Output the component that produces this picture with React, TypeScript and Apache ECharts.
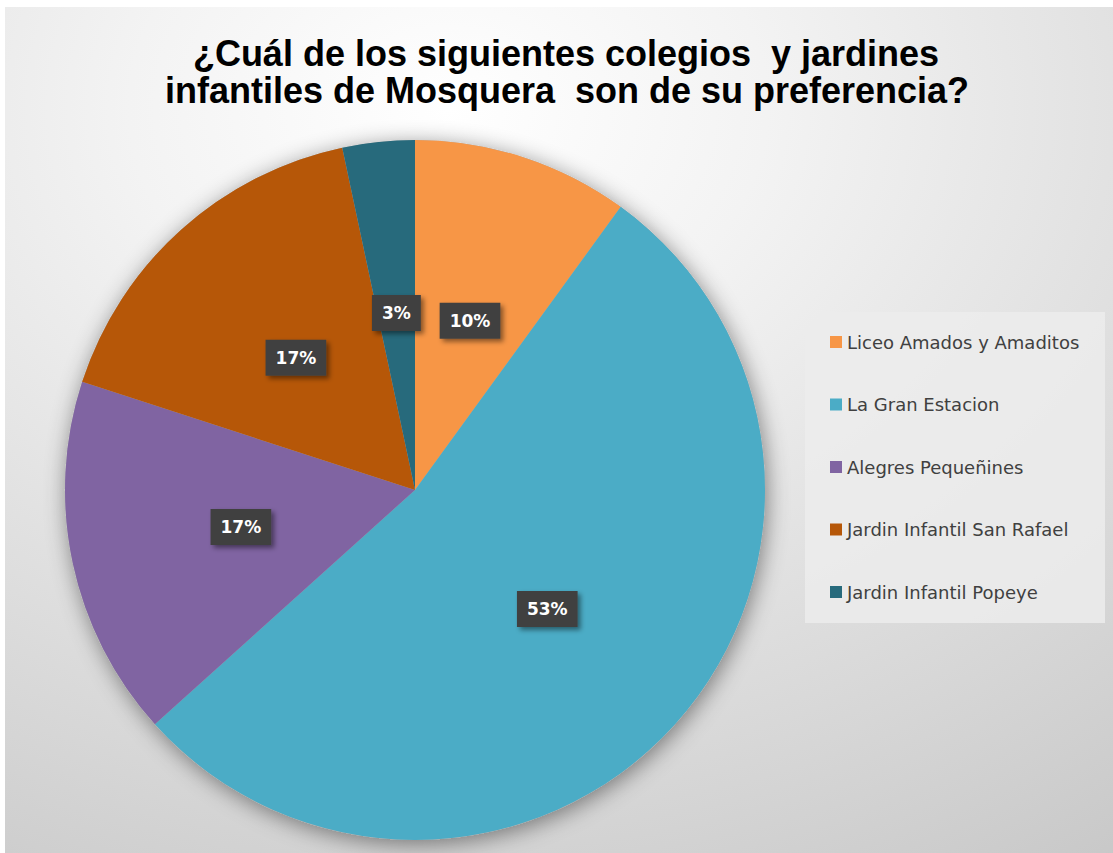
import React, { useEffect, useRef } from "react";
import * as echarts from "echarts";

const categories = [
  "Liceo Amados y Amaditos",
  "La Gran Estacion",
  "Alegres Pequeñines",
  "Jardin Infantil San Rafael",
  "Jardin Infantil Popeye",
];
const values = [3, 16, 5, 5, 1];
const colors = ["#F79646", "#4BACC6", "#8064A2", "#B65708", "#276A7C"];
const titleLines = [
  "¿Cuál de los siguientes colegios  y jardines",
  "infantiles de Mosquera  son de su preferencia?",
];

export default function App() {
  const ref = useRef<HTMLDivElement>(null);
  useEffect(() => {
    if (!ref.current) return;
    const chart = echarts.init(ref.current, null, { renderer: "svg" });
    const titleStyle = {
      fill: "#000000",
      fontFamily: "Liberation Sans",
      fontWeight: "bold",
      fontSize: 36,
      textAlign: "center",
      textVerticalAlign: "middle",
    };
    chart.setOption({
      animation: false,
      backgroundColor: "#ffffff",
      graphic: [
        {
          type: "rect",
          z: -10,
          silent: true,
          shape: { x: 5, y: 7, width: 1108, height: 846 },
          style: {
            fill: new echarts.graphic.RadialGradient(0.4, 0.12, 1.15, [
              { offset: 0, color: "#ffffff" },
              { offset: 0.25, color: "#f3f3f3" },
              { offset: 1, color: "#c4c4c4" },
            ]),
          },
        },
        {
          type: "rect",
          z: -5,
          silent: true,
          shape: { x: 805, y: 312, width: 300, height: 311 },
          style: { fill: "rgba(236,236,236,0.85)" },
        },
        {
          type: "text",
          x: 566,
          y: 53,
          style: { ...titleStyle, text: titleLines[0] },
        },
        {
          type: "text",
          x: 567,
          y: 90,
          style: { ...titleStyle, text: titleLines[1] },
        },
      ],
      legend: {
        data: categories,
        orient: "vertical",
        left: 830,
        top: 332,
        padding: 0,
        itemWidth: 12,
        itemHeight: 12,
        itemGap: 42.5,
        icon: "rect",
        textStyle: {
          fontFamily: "DejaVu Sans",
          fontSize: 18,
          color: "#404040",
          lineHeight: 20,
        },
      },
      series: [
        {
          type: "pie",
          silent: true,
          center: [415, 490],
          radius: 350,
          z: 1,
          data: [{ value: 1, name: "_shadow" }],
          label: { show: false },
          labelLine: { show: false },
          itemStyle: {
            color: "#b0b0b0",
            shadowBlur: 22,
            shadowOffsetX: 2,
            shadowOffsetY: 4,
            shadowColor: "rgba(0,0,0,0.45)",
          },
        },
        {
          type: "pie",
          z: 2,
          center: [415, 490],
          radius: 350,
          startAngle: 90,
          clockwise: true,
          data: categories.map((n, i) => ({
            name: n,
            value: values[i],
            itemStyle: { color: colors[i] },
          })),
          itemStyle: { borderWidth: 0 },
          label: {
            show: true,
            position: "inside",
            formatter: (p: any) => Math.round(p.percent) + "%",
            color: "#ffffff",
            fontWeight: "bold",
            fontSize: 17,
            fontFamily: "DejaVu Sans",
            backgroundColor: "#404040",
            padding: [10, 10, 9, 10],
            shadowBlur: 5,
            shadowOffsetX: 3,
            shadowOffsetY: 3,
            shadowColor: "rgba(0,0,0,0.45)",
          },
          labelLine: { show: false },
        },
      ],
    });
    return () => chart.dispose();
  }, []);
  return (
    <div
      ref={ref}
      style={{ position: "fixed", left: 0, top: 0, width: 1113, height: 853 }}
    />
  );
}
